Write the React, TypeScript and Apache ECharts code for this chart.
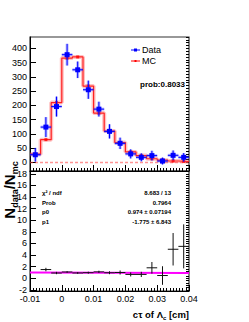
import React, { useEffect, useRef } from "react";
import * as echarts from "echarts";

const xMin = -0.01;
const xMax = 0.04;
const nBins = 15;
const xTickStep = 0.01;

const dataVals = [27, 124, 196, 378, 325, 255, 187, 109, 67, 30, 18, 24, 5, 25, 18];
const dataErrs = [24, 35, 35, 38, 29, 32, 26, 25, 20, 16, 14, 17, 12, 17, 15];
const mcVals = [29, 80, 210, 366, 370, 268, 173, 110, 70, 37, 24, 13, 8, 5, 3.3];
const ratioVals: (number | null)[] = [null, 1.5, 0.9, 1.08, 0.91, 0.96, 1.1, 0.95, 0.99, 0.66, 0.66, 1.8, 0.47, 5.0, 5.5];
const ratioErrs: (number | null)[] = [null, 0.3, 0.2, 0.15, 0.15, 0.17, 0.2, 0.25, 0.35, 0.35, 0.45, 1.0, 1.6, 2.8, 3.8];

const fitP0 = 0.974;
const fitP1 = -1.775;

const topYMin = -30;
const topYMax = 440;
const topYLabels = [0, 50, 100, 150, 200, 250, 300, 350, 400];
const topMinorStep = 10;

const botYMin = -2.2;
const botYMax = 18.5;
const botYLabels = [-2, 0, 2, 4, 6, 8, 10, 12, 14, 16, 18];
const botMinorStep = 0.4;

const statNames = ["χ² / ndf", "Prob", "p0", "p1"];
const statValues = ["8.683 / 13", "0.7964", "0.974 ± 0.07194", "-1.775 ± 6.843"];
const probText = "prob:0.8033";

const FONT = "Liberation Sans, Arial, Helvetica, sans-serif";

const binW = (xMax - xMin) / nBins;
const centers = Array.from({ length: nBins }, (_, i) => xMin + (i + 0.5) * binW);

function minorTicks(min: number, max: number, step: number) {
  const out: number[] = [];
  const start = Math.ceil(min / step);
  const end = Math.floor(max / step);
  for (let k = start; k <= end; k++) out.push(+(k * step).toFixed(6));
  return out;
}

function makeErrRender(core: string, halo: string | null, marker: boolean) {
  return (params: any, api: any) => {
    const x = api.value(0);
    const y = api.value(1);
    const ex = api.value(2);
    const ey = api.value(3);
    const c = api.coord([x, y]);
    const l = api.coord([x - ex, y]);
    const r = api.coord([x + ex, y]);
    const t = api.coord([x, y + ey]);
    const b = api.coord([x, y - ey]);
    const children: any[] = [];
    if (halo) {
      children.push(
        { type: "line", shape: { x1: l[0], y1: c[1], x2: r[0], y2: c[1] }, style: { stroke: halo, lineWidth: 3 } },
        { type: "line", shape: { x1: c[0], y1: t[1], x2: c[0], y2: b[1] }, style: { stroke: halo, lineWidth: 3 } }
      );
    }
    children.push(
      { type: "line", shape: { x1: l[0], y1: c[1], x2: r[0], y2: c[1] }, style: { stroke: core, lineWidth: 1 } },
      { type: "line", shape: { x1: c[0], y1: t[1], x2: c[0], y2: b[1] }, style: { stroke: core, lineWidth: 1 } }
    );
    if (marker) {
      children.push({ type: "rect", shape: { x: c[0] - 2.5, y: c[1] - 2.5, width: 5, height: 5 }, style: { fill: core } });
    }
    return { type: "group", children };
  };
}

function xAxisCfg(gridIndex: number, showLabels: boolean) {
  return {
    type: "value",
    gridIndex,
    min: xMin,
    max: xMax,
    interval: xTickStep,
    axisLine: { onZero: false, lineStyle: { color: "#000", width: 1 } },
    axisTick: { inside: true, length: 6, lineStyle: { color: "#000" } },
    minorTick: { show: true, splitNumber: 10, length: 3, lineStyle: { color: "#000" } },
    splitLine: { show: false },
    minorSplitLine: { show: false },
    axisLabel: {
      show: showLabels,
      fontSize: 9,
      color: "#000",
      fontFamily: FONT,
      margin: 3,
      formatter: (v: number) => String(parseFloat(v.toFixed(4))),
    },
  };
}

function yMajor(gridIndex: number, min: number, max: number, labels: number[]) {
  return {
    type: "value",
    gridIndex,
    min,
    max,
    axisLine: { show: true, onZero: false, lineStyle: { color: "#000", width: 1 } },
    axisTick: { show: true, inside: true, length: 6, customValues: labels, lineStyle: { color: "#000" } },
    axisLabel: { show: true, customValues: labels, fontSize: 9, color: "#000", fontFamily: FONT, margin: 3 },
    splitLine: { show: false },
  };
}

function yMinor(gridIndex: number, min: number, max: number, step: number) {
  return {
    type: "value",
    gridIndex,
    min,
    max,
    axisLine: { show: false, onZero: false },
    axisTick: { show: true, inside: true, length: 3, customValues: minorTicks(min, max, step), lineStyle: { color: "#000" } },
    axisLabel: { show: false },
    splitLine: { show: false },
  };
}

export default function App() {
  const ref = useRef<HTMLDivElement>(null);
  useEffect(() => {
    if (!ref.current) return;
    const chart = echarts.init(ref.current, undefined, { renderer: "svg" });

    const mcStep: number[][] = [];
    mcVals.forEach((v, i) => {
      mcStep.push([xMin + i * binW, v]);
      mcStep.push([xMin + (i + 1) * binW, v]);
    });
    const dataPts = centers.map((x, i) => [x, dataVals[i], binW / 2, dataErrs[i]]);
    const mcPts = centers.map((x, i) => [x, mcVals[i]]);
    const ratioPts = centers
      .map((x, i) => [x, ratioVals[i], binW / 2, ratioErrs[i]])
      .filter((p) => p[1] !== null);
    const fitLine = [
      [xMin, fitP0 + fitP1 * xMin],
      [xMax, fitP0 + fitP1 * xMax],
    ];

    const graphic: any[] = [
      // legend
      { type: "line", shape: { x1: 131, y1: 50, x2: 140, y2: 50 }, style: { stroke: "#0000ff", lineWidth: 1 } },
      { type: "rect", shape: { x: 134, y: 48.5, width: 3, height: 3 }, style: { fill: "#0000ff" } },
      { type: "text", x: 142, y: 50, style: { text: "Data", fontSize: 9, fontFamily: FONT, fill: "#000", verticalAlign: "middle", align: "left" } },
      { type: "line", shape: { x1: 131, y1: 61, x2: 140, y2: 61 }, style: { stroke: "#ff0000", lineWidth: 1 } },
      { type: "rect", shape: { x: 134.5, y: 60, width: 2, height: 2 }, style: { fill: "#ff0000" } },
      { type: "text", x: 142, y: 61, style: { text: "MC", fontSize: 9, fontFamily: FONT, fill: "#000", verticalAlign: "middle", align: "left" } },
      { type: "text", x: 185, y: 84, style: { text: probText, fontSize: 8, fontWeight: "bold", fontFamily: FONT, fill: "#000", verticalAlign: "middle", align: "right" } },
      // x title
      {
        type: "text",
        x: 189,
        y: 314,
        style: {
          text: "{a|cτ of Λ}{s|c}{a| [cm]}",
          align: "right",
          verticalAlign: "middle",
          rich: {
            a: { fontSize: 9.5, fontWeight: "bold", fontFamily: FONT, fill: "#000", verticalAlign: "bottom" },
            s: { fontSize: 6, fontWeight: "bold", fontFamily: FONT, fill: "#000", verticalAlign: "bottom", padding: [0, 0, -2, 0] },
          },
        },
      },
      // y title
      {
        type: "text",
        x: 9,
        y: 190,
        rotation: Math.PI / 2,
        style: {
          text: "{b|N}{s|data}{b|/N}{s|mc}",
          align: "center",
          verticalAlign: "middle",
          rich: {
            b: { fontSize: 15, fontWeight: "bold", fontFamily: FONT, fill: "#000", verticalAlign: "bottom" },
            s: { fontSize: 9, fontWeight: "bold", fontFamily: FONT, fill: "#000", verticalAlign: "bottom", padding: [0, 0, -3, 0] },
          },
        },
      },
    ];
    statNames.forEach((n, i) => {
      const y = 193 + i * 9.7;
      graphic.push({ type: "text", x: 42, y, style: { text: n, fontSize: 6, fontWeight: "bold", fontFamily: FONT, fill: "#000", verticalAlign: "middle", align: "left" } });
      graphic.push({ type: "text", x: 171, y, style: { text: statValues[i], fontSize: 6, fontWeight: "bold", fontFamily: FONT, fill: "#000", verticalAlign: "middle", align: "right" } });
    });

    chart.setOption({
      animation: false,
      backgroundColor: "#fff",
      grid: [
        { left: 30, top: 37, width: 159, height: 134, show: true, borderColor: "#333", borderWidth: 1.2, backgroundColor: "transparent" },
        { left: 30, top: 171, width: 159, height: 120, show: true, borderColor: "#333", borderWidth: 1.2, backgroundColor: "transparent" },
      ],
      xAxis: [xAxisCfg(0, false), xAxisCfg(1, true)],
      yAxis: [
        yMajor(0, topYMin, topYMax, topYLabels),
        yMinor(0, topYMin, topYMax, topMinorStep),
        yMajor(1, botYMin, botYMax, botYLabels),
        yMinor(1, botYMin, botYMax, botMinorStep),
      ],
      series: [
        {
          type: "line",
          xAxisIndex: 0,
          yAxisIndex: 0,
          data: [
            [xMin, 0],
            [xMax, 0],
          ],
          symbol: "none",
          lineStyle: { color: "rgba(255,60,60,0.55)", width: 1.5, type: [3, 2] },
          z: 2,
        },
        {
          type: "line",
          xAxisIndex: 0,
          yAxisIndex: 0,
          data: mcStep,
          symbol: "none",
          lineStyle: { color: "rgba(255,80,80,0.35)", width: 4 },
          z: 3,
        },
        {
          type: "line",
          xAxisIndex: 0,
          yAxisIndex: 0,
          data: mcStep,
          symbol: "none",
          lineStyle: { color: "#ff2020", width: 1.2 },
          z: 4,
        },
        {
          type: "scatter",
          xAxisIndex: 0,
          yAxisIndex: 0,
          data: mcPts,
          symbol: "rect",
          symbolSize: 3,
          itemStyle: { color: "#ff0000" },
          z: 5,
        },
        {
          type: "custom",
          xAxisIndex: 0,
          yAxisIndex: 0,
          data: dataPts,
          renderItem: makeErrRender("#0000ff", "rgba(60,60,255,0.35)", true),
          z: 6,
        },
        {
          type: "line",
          xAxisIndex: 1,
          yAxisIndex: 2,
          data: fitLine,
          symbol: "none",
          lineStyle: { color: "#ff00ff", width: 1.8 },
          z: 3,
        },
        {
          type: "custom",
          xAxisIndex: 1,
          yAxisIndex: 2,
          data: ratioPts,
          clip: true,
          renderItem: makeErrRender("#111", null, false),
          z: 5,
        },
      ],
      graphic,
    });
    return () => chart.dispose();
  }, []);
  return <div ref={ref} style={{ position: "fixed", left: 0, top: 0, width: 249, height: 322 }} />;
}
